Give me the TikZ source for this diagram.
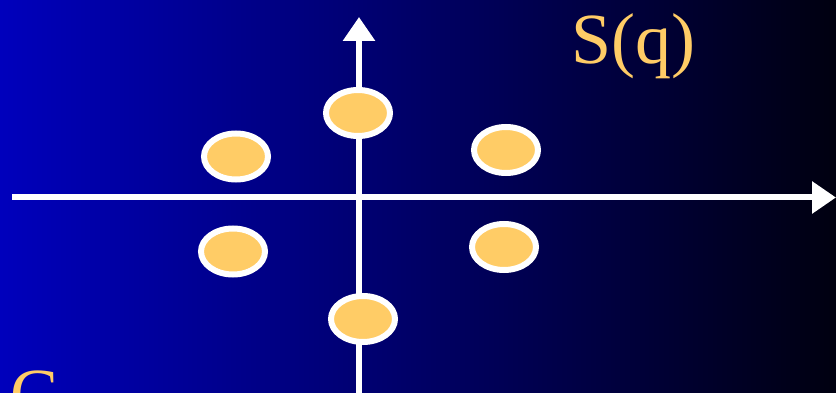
\documentclass[tikz,border=0pt]{standalone}
\usepackage{fontspec}
\setmainfont{Liberation Serif}
\usetikzlibrary{arrows.meta,shapes.geometric}
\definecolor{bgleft}{RGB}{0,0,188}
\definecolor{bgright}{RGB}{0,0,16}
\definecolor{dotfill}{RGB}{255,204,102}
\definecolor{labelcol}{RGB}{255,204,102}
\tikzset{
  axis/.style={draw=white,line width=6pt,-{Triangle[length=24pt,width=31pt]}},
  dot/.style={ellipse,draw=white,line width=6pt,fill=dotfill,minimum width=64pt,minimum height=46pt,inner sep=0pt},
  lbl/.style={text=labelcol,font=\fontsize{72}{72}\selectfont,inner sep=0pt,anchor=base}
}
\begin{document}
\begin{tikzpicture}[x=1pt,y=-1pt]
\useasboundingbox (0,0) rectangle (836,393);
\shade[left color=bgleft,right color=bgright] (0,0) rectangle (836,393);
\coordinate (hstart) at (12,197.5);
\coordinate (hend) at (836,197.5);
\coordinate (vstart) at (359,396);
\coordinate (vend) at (359,17);
\draw[axis] (hstart) -- (hend);
\draw[axis] (vstart) -- (vend);
\node[dot] (d1) at (358,113) {};
\node[dot] (d2) at (236,156.5) {};
\node[dot] (d3) at (506,150) {};
\node[dot] (d4) at (233,251.5) {};
\node[dot] (d5) at (504,247) {};
\node[dot] (d6) at (363,319) {};
\node[lbl] (sq) at (633,64) {S(q)};
\begin{scope}
\clip (0,0) rectangle (836,393);
\node[lbl,anchor=base west] (c) at (10,418) {C};
\end{scope}
\end{tikzpicture}
\end{document}
